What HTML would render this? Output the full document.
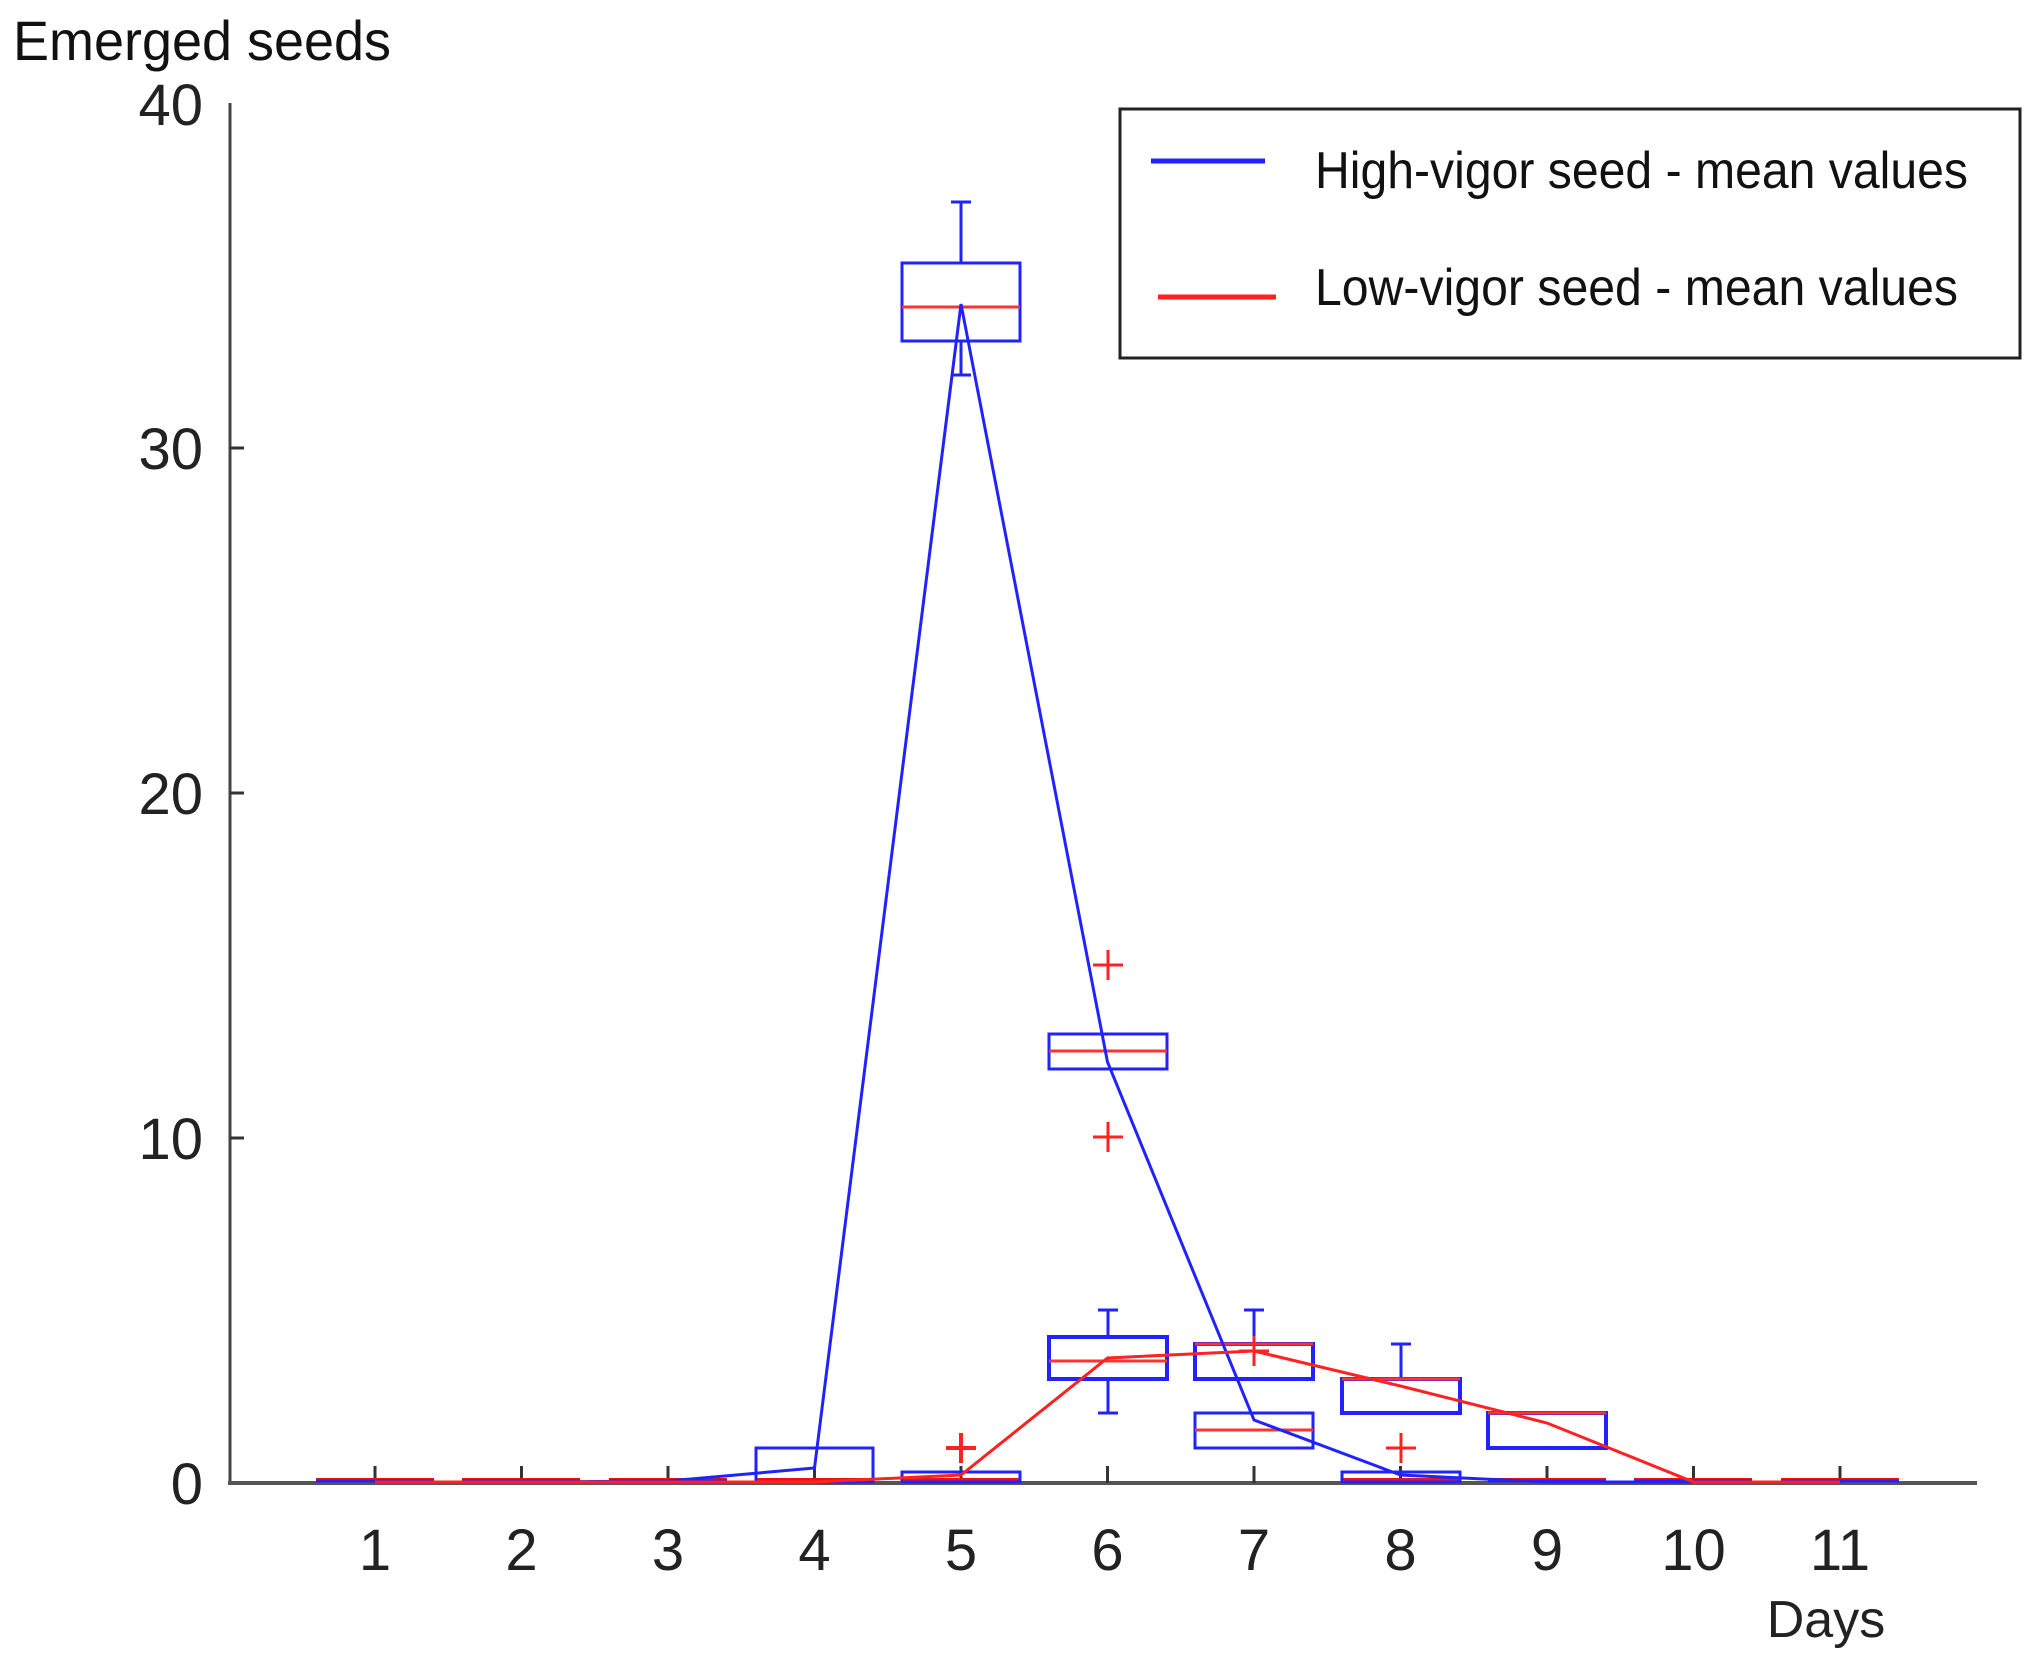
<!DOCTYPE html>
<html><head><style>html,body{margin:0;padding:0;background:#fff;}svg{display:block;}</style></head>
<body>
<svg width="2041" height="1666" viewBox="0 0 2041 1666" xmlns="http://www.w3.org/2000/svg" font-family="Liberation Sans, sans-serif">
<rect width="2041" height="1666" fill="#fff"/>
<text x="13" y="60" font-size="56" fill="#111" textLength="378" lengthAdjust="spacingAndGlyphs">Emerged seeds</text>
<line x1="230" y1="103" x2="230" y2="1483" stroke="#444" stroke-width="3"/>
<line x1="228" y1="1483" x2="1977" y2="1483" stroke="#555" stroke-width="4"/>
<g stroke="#333" stroke-width="3">
<line x1="230" y1="1138" x2="244" y2="1138"/>
<line x1="230" y1="793" x2="244" y2="793"/>
<line x1="230" y1="448" x2="244" y2="448"/>
<line x1="375" y1="1483" x2="375" y2="1466"/><line x1="521.5" y1="1483" x2="521.5" y2="1466"/><line x1="668" y1="1483" x2="668" y2="1466"/><line x1="814.5" y1="1483" x2="814.5" y2="1466"/><line x1="961" y1="1483" x2="961" y2="1466"/><line x1="1107.5" y1="1483" x2="1107.5" y2="1466"/><line x1="1254" y1="1483" x2="1254" y2="1466"/><line x1="1400.5" y1="1483" x2="1400.5" y2="1466"/><line x1="1547" y1="1483" x2="1547" y2="1466"/><line x1="1693.5" y1="1483" x2="1693.5" y2="1466"/><line x1="1840" y1="1483" x2="1840" y2="1466"/>
</g>
<g font-size="58" fill="#222" text-anchor="end">
<text x="203" y="125">40</text><text x="203" y="469">30</text><text x="203" y="814">20</text><text x="203" y="1159">10</text><text x="203" y="1504">0</text>
</g>
<g font-size="58" fill="#222" text-anchor="middle">
<text x="375" y="1570">1</text><text x="521.5" y="1570">2</text><text x="668" y="1570">3</text><text x="814.5" y="1570">4</text><text x="961" y="1570">5</text><text x="1107.5" y="1570">6</text><text x="1254" y="1570">7</text><text x="1400.5" y="1570">8</text><text x="1547" y="1570">9</text><text x="1693.5" y="1570">10</text><text x="1840" y="1570">11</text>
<text x="1826" y="1637" font-size="52">Days</text>
</g>
<g stroke="#e11" stroke-width="4">
<line x1="316" y1="1480" x2="434" y2="1480"/><line x1="462" y1="1480" x2="580" y2="1480"/><line x1="609" y1="1480" x2="727" y2="1480"/><line x1="755" y1="1480" x2="873" y2="1480"/><line x1="902" y1="1480" x2="1020" y2="1480"/><line x1="1341" y1="1480" x2="1459" y2="1480"/><line x1="1488" y1="1480" x2="1606" y2="1480"/><line x1="1634" y1="1480" x2="1752" y2="1480"/><line x1="1781" y1="1480" x2="1899" y2="1480"/>
</g>
<g stroke="#22f" stroke-width="3" fill="none">
<line x1="316" y1="1481" x2="434" y2="1481"/><line x1="462" y1="1481" x2="580" y2="1481"/><line x1="609" y1="1481" x2="727" y2="1481"/><line x1="1488" y1="1481" x2="1606" y2="1481"/><line x1="1634" y1="1481" x2="1752" y2="1481"/><line x1="1781" y1="1481" x2="1899" y2="1481"/>
<rect x="756" y="1448" width="117" height="34"/>
<rect x="902" y="263" width="118" height="78"/>
<line x1="961" y1="263" x2="961" y2="202"/><line x1="951" y1="202" x2="971" y2="202"/>
<line x1="961" y1="341" x2="961" y2="375"/><line x1="951" y1="375" x2="971" y2="375"/>
<rect x="902" y="1472" width="118" height="10"/>
<rect x="1049" y="1034" width="118" height="35"/>
<rect x="1049" y="1337" width="118" height="42" stroke-width="4"/>
<line x1="1108" y1="1337" x2="1108" y2="1310"/><line x1="1098" y1="1310" x2="1118" y2="1310"/>
<line x1="1108" y1="1379" x2="1108" y2="1413"/><line x1="1098" y1="1413" x2="1118" y2="1413"/>
<rect x="1195" y="1344" width="118" height="35" stroke-width="4"/>
<line x1="1254" y1="1344" x2="1254" y2="1310"/><line x1="1244" y1="1310" x2="1264" y2="1310"/>
<rect x="1195" y="1413" width="118" height="35"/>
<rect x="1342" y="1379" width="118" height="34" stroke-width="4"/>
<line x1="1401" y1="1379" x2="1401" y2="1344"/><line x1="1391" y1="1344" x2="1411" y2="1344"/>
<rect x="1342" y="1472" width="118" height="10"/>
<rect x="1488" y="1413" width="118" height="35" stroke-width="4"/>
</g>
<g stroke="#f33" stroke-width="3">
<line x1="902" y1="307" x2="1020" y2="307"/>
<line x1="1049" y1="1051" x2="1167" y2="1051"/>
<line x1="1049" y1="1361" x2="1167" y2="1361"/>
<line x1="1195" y1="1430" x2="1313" y2="1430"/>
<line x1="1195" y1="1344" x2="1313" y2="1344"/>
<line x1="1342" y1="1379" x2="1460" y2="1379"/>
<line x1="1488" y1="1413" x2="1606" y2="1413"/>
</g>
<g stroke="#f22" stroke-width="3">
<path d="M1093 965h30M1108 950v30"/>
<path d="M1093 1137h30M1108 1122v30"/>
<path d="M946 1448h30M961 1433v30" stroke-width="4"/>
<path d="M1386 1448h30M1401 1433v30"/>
<path d="M1239 1351h30M1254 1336v30"/>
</g>
<polyline fill="none" stroke="#22f" stroke-width="3" points="375,1482 521.5,1482 668,1481 814.5,1468 961,304 1107.5,1062 1254,1420 1400.5,1475 1547,1482 1693.5,1482 1840,1482"/>
<polyline fill="none" stroke="#f22" stroke-width="3" points="375,1482 521.5,1482 668,1482 814.5,1482 961,1475 1107.5,1358 1254,1351 1400.5,1386 1547,1423 1693.5,1482 1840,1482"/>
<rect x="1120" y="109" width="900" height="249" fill="#fff" stroke="#222" stroke-width="3"/>
<line x1="1151" y1="161" x2="1265" y2="161" stroke="#22f" stroke-width="5"/>
<line x1="1158" y1="297" x2="1276" y2="297" stroke="#f22" stroke-width="5"/>
<text x="1315" y="188" font-size="52" fill="#111" textLength="653" lengthAdjust="spacingAndGlyphs">High-vigor seed - mean values</text>
<text x="1315" y="305" font-size="52" fill="#111" textLength="643" lengthAdjust="spacingAndGlyphs">Low-vigor seed - mean values</text>
</svg>
</body></html>
